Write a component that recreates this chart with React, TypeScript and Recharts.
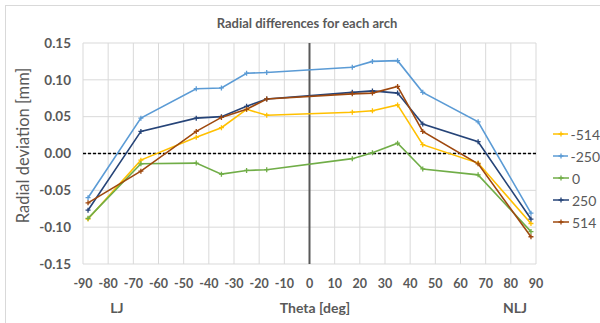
import { LineChart, Line, XAxis, YAxis, CartesianGrid, ReferenceLine, Legend } from 'recharts'

const theta = [-88, -67, -45, -35, -25, -17, 17, 25, 35, 45, 67, 88]
const archM514 = [-0.089, -0.009, 0.022, 0.035, 0.060, 0.052, 0.056, 0.058, 0.066, 0.012, -0.013, -0.095]
const archM250 = [-0.060, 0.048, 0.088, 0.089, 0.109, 0.110, 0.117, 0.125, 0.126, 0.083, 0.043, -0.081]
const arch0 = [-0.088, -0.014, -0.013, -0.028, -0.023, -0.022, -0.007, 0.001, 0.014, -0.021, -0.029, -0.106]
const arch250 = [-0.077, 0.030, 0.048, 0.050, 0.064, 0.074, 0.083, 0.085, 0.082, 0.040, 0.016, -0.089]
const arch514 = [-0.067, -0.024, 0.030, 0.049, 0.060, 0.074, 0.081, 0.082, 0.091, 0.030, -0.014, -0.113]

const xTicks = [-90, -80, -70, -60, -50, -40, -30, -20, -10, 0, 10, 20, 30, 40, 50, 60, 70, 80, 90]
const yTicks = [-0.15, -0.1, -0.05, 0, 0.05, 0.1, 0.15]

const series = [
  { key: 'm514', name: '-514', color: '#FFC000', values: archM514 },
  { key: 'm250', name: '-250', color: '#5B9BD5', values: archM250 },
  { key: 'z0', name: '0', color: '#70AD47', values: arch0 },
  { key: 'p250', name: '250', color: '#264478', values: arch250 },
  { key: 'p514', name: '514', color: '#9E480E', values: arch514 },
]

const data = theta.map((t, i) => {
  const row: Record<string, number> = { theta: t }
  series.forEach(s => { row[s.key] = s.values[i] })
  return row
})

const GREY = '#595959'
const FONT = 'Lato, "Open Sans", sans-serif'

function PlusDot(props: any) {
  const { cx, cy, stroke, index } = props
  if (cx == null || cy == null) return null
  return <path key={index} d={`M${cx - 2.5},${cy}h5M${cx},${cy - 2.5}v5`} stroke={stroke} strokeWidth={1.3} fill="none" />
}

function LegendBox() {
  return (
    <div style={{ fontFamily: FONT, fontSize: 14, color: GREY }}>
      {series.map(s => (
        <div key={s.key} style={{ display: 'flex', alignItems: 'center', height: 22 }}>
          <svg width={17} height={10} style={{ marginRight: 2 }}>
            <line x1={0} y1={5} x2={16} y2={5} stroke={s.color} strokeWidth={1.5} />
            <path d="M5.5,5h5M8,2.5v5" stroke={s.color} strokeWidth={1.3} />
          </svg>
          <span>{s.name}</span>
        </div>
      ))}
    </div>
  )
}

// LJ / Theta / NLJ row under the tick labels
function BottomLabels() {
  const style = { fontFamily: FONT, fontSize: 14, fontWeight: 700, fill: GREY }
  return (
    <g>
      <text x={117} y={313} textAnchor="middle" style={style}>LJ</text>
      <text x={315} y={313} textAnchor="middle" style={style}>Theta [deg]</text>
      <text x={515} y={313} textAnchor="middle" style={style}>NLJ</text>
    </g>
  )
}

export default function App() {
  return (
    <div style={{ position: 'absolute', left: 0, top: 0, width: 600, height: 323, overflow: 'hidden', background: '#fff' }}>
      <div style={{ position: 'absolute', left: 5, top: 5, width: 640, height: 360, border: '1px solid #d9d9d9' }} />
      <LineChart width={600} height={323} data={data} margin={{ top: 43, right: 64, left: 23, bottom: 29 }}>
        <text x={307} y={28} textAnchor="middle" style={{ fontFamily: FONT, fontSize: 13, fontWeight: 700, fill: GREY }}>
          Radial differences for each arch
        </text>
        <CartesianGrid stroke="#d9d9d9" strokeWidth={1} />
        <XAxis
          type="number"
          dataKey="theta"
          domain={[-90, 90]}
          ticks={xTicks}
          interval={0}
          axisLine={false}
          tickLine={false}
          tickSize={0}
          tickMargin={15}
          height={30}
          tick={{ fontFamily: FONT, fontSize: 12.5, fontWeight: 700, fill: GREY }}
          label={<BottomLabels />}
        />
        <YAxis
          type="number"
          domain={[-0.15, 0.15]}
          ticks={yTicks}
          interval={0}
          axisLine={false}
          tickLine={false}
          tickSize={0}
          tickMargin={12}
          width={60}
          tickFormatter={(v: number) => v.toFixed(2)}
          tick={{ fontFamily: FONT, fontSize: 13.5, fontWeight: 700, fill: GREY }}
          label={{ value: 'Radial deviation [mm]', angle: -90, position: 'center', dx: -30, dy: -8, style: { fontFamily: FONT, fontSize: 16.5, fill: GREY, textAnchor: 'middle' } }}
        />
        <ReferenceLine x={0} stroke={GREY} strokeWidth={2} />
        <ReferenceLine y={0} stroke="#000" strokeWidth={1.3} strokeDasharray="3 2" />
        <Legend
          layout="vertical"
          align="center"
          verticalAlign="middle"
          content={<LegendBox />}
          wrapperStyle={{ left: 553, top: 123, width: 47 }}
        />
        {series.map(s => (
          <Line
            key={s.key}
            dataKey={s.key}
            name={s.name}
            stroke={s.color}
            strokeWidth={1.6}
            type="linear"
            dot={<PlusDot />}
            activeDot={false}
            isAnimationActive={false}
          />
        ))}
      </LineChart>
    </div>
  )
}
